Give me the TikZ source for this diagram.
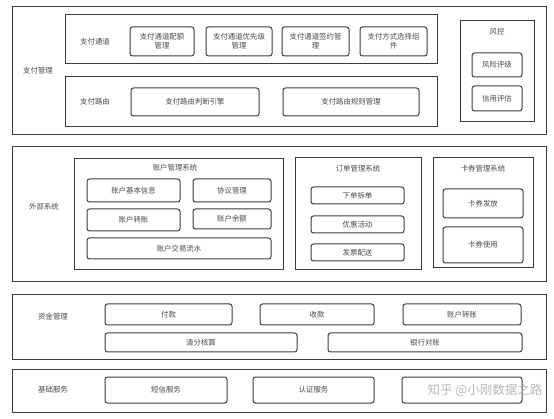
\documentclass[tikz,border=0pt]{standalone}
\usepackage{fontspec}
\setmainfont{Noto Sans CJK SC}
\newfontfamily\cjk{Noto Sans CJK SC}
\definecolor{linec}{HTML}{3C3C3C}
\definecolor{txtc}{HTML}{4A4A4A}
\definecolor{wmc}{HTML}{B8B8B8}
\begin{document}
\begin{tikzpicture}[x=1pt,y=-1pt,
  every node/.style={inner sep=0pt,outer sep=0pt,font=\cjk\fontsize{7.4}{9}\selectfont,text=txtc},
  outerbox/.style={draw=linec,line width=1pt,minimum width=534pt},
  groupbox/.style={draw=linec,line width=1pt},
  leaf/.style={draw=linec,line width=1pt,rounded corners=2.5pt,align=center},
  lbl/.style={}]
\useasboundingbox[fill=white] (0,0) rectangle (554,419);
% outer boxes
\node[outerbox,minimum height=128pt] (o1) at (279,71) {};
\node[outerbox,minimum height=135pt] (o2) at (279,214.5) {};
\node[outerbox,minimum height=65pt] (o3) at (279,327.5) {};
\node[outerbox,minimum height=42pt] (o4) at (279,391) {};
\node[lbl] (l1) at (38,71) {支付管理};
\node[lbl] (l2) at (44,207) {外部系统};
\node[lbl] (l3) at (53,317) {资金管理};
\node[lbl] (l4) at (53,390) {基础服务};
% 支付通道
\node[groupbox,minimum width=372pt,minimum height=49pt] (gtd) at (251,39.5) {};
\node[lbl] (ltd) at (95,42) {支付通道};
\node[leaf,minimum width=64pt,minimum height=29pt] (a1) at (162,41.5) {支付通道配额\\管理};
\node[leaf,minimum width=66pt,minimum height=29pt] (a2) at (239,41.5) {支付通道优先级\\管理};
\node[leaf,minimum width=67pt,minimum height=29pt] (a3) at (315.5,41.5) {支付通道签约管\\理};
\node[leaf,minimum width=67pt,minimum height=29pt] (a4) at (393.5,41.5) {支付方式选择组\\件};
% 支付路由
\node[groupbox,minimum width=372pt,minimum height=50pt] (gly) at (251,102) {};
\node[lbl] (lly) at (95,102) {支付路由};
\node[leaf,minimum width=128pt,minimum height=28pt] (b1) at (195,102) {支付路由判断引擎};
\node[leaf,minimum width=136pt,minimum height=28pt] (b2) at (351,102) {支付路由规则管理};
% 风控
\node[groupbox,minimum width=74pt,minimum height=101pt] (gfk) at (497,71.5) {};
\node[lbl] (lfk) at (497,32) {风控};
\node[leaf,minimum width=50pt,minimum height=24pt] (c1) at (497,65) {风险评级};
\node[leaf,minimum width=50pt,minimum height=25pt] (c2) at (497,98.5) {信用评估};
% 账户管理系统
\node[groupbox,minimum width=209pt,minimum height=111pt] (gzh) at (178.5,214.5) {};
\node[lbl] (lzh) at (175,168) {账户管理系统};
\node[leaf,minimum width=93pt,minimum height=23pt] (d1) at (133.5,190.5) {账户基本信息};
\node[leaf,minimum width=78pt,minimum height=23pt] (d2) at (232,190.5) {协议管理};
\node[leaf,minimum width=93pt,minimum height=22pt] (d3) at (133.5,220) {账户转账};
\node[leaf,minimum width=78pt,minimum height=20pt] (d4) at (232,219) {账户余额};
\node[leaf,minimum width=184pt,minimum height=21pt] (d5) at (179,248.5) {账户交易流水};
% 订单管理系统
\node[groupbox,minimum width=126pt,minimum height=112pt] (gdd) at (358,214) {};
\node[lbl] (ldd) at (358,169) {订单管理系统};
\node[leaf,minimum width=93pt,minimum height=17pt] (e1) at (357.5,195.5) {下单拆单};
\node[leaf,minimum width=93pt,minimum height=17pt] (e2) at (357.5,224.5) {优惠活动};
\node[leaf,minimum width=93pt,minimum height=17pt] (e3) at (357.5,252.5) {发票配送};
% 卡券管理系统
\node[groupbox,minimum width=100pt,minimum height=110pt] (gkq) at (483,213) {};
\node[lbl] (lkq) at (483,169) {卡券管理系统};
\node[leaf,minimum width=80pt,minimum height=29pt] (f1) at (483,203.5) {卡券发放};
\node[leaf,minimum width=80pt,minimum height=36pt] (f2) at (483,245) {卡券使用};
% 资金管理
\node[leaf,minimum width=127pt,minimum height=21pt] (g1) at (168.5,314.5) {付款};
\node[leaf,minimum width=114pt,minimum height=21pt] (g2) at (317,314.5) {收款};
\node[leaf,minimum width=118pt,minimum height=21pt] (g3) at (462,314.5) {账户转账};
\node[leaf,minimum width=192pt,minimum height=19pt] (g4) at (201,342.5) {清分核算};
\node[leaf,minimum width=194pt,minimum height=19pt] (g5) at (425,342.5) {银行对账};
% 基础服务
\node[leaf,minimum width=122pt,minimum height=26pt] (h1) at (166,390) {短信服务};
\node[leaf,minimum width=121pt,minimum height=26pt] (h2) at (313.5,390) {认证服务};
\node[leaf,minimum width=120pt,minimum height=26pt] (h3) at (462,390) {};
% watermark
\node[font=\cjk\fontsize{12.5}{14}\selectfont,text=wmc] (wm) at (485,390) {知乎 @小刚数据之路};
\end{tikzpicture}
\end{document}
